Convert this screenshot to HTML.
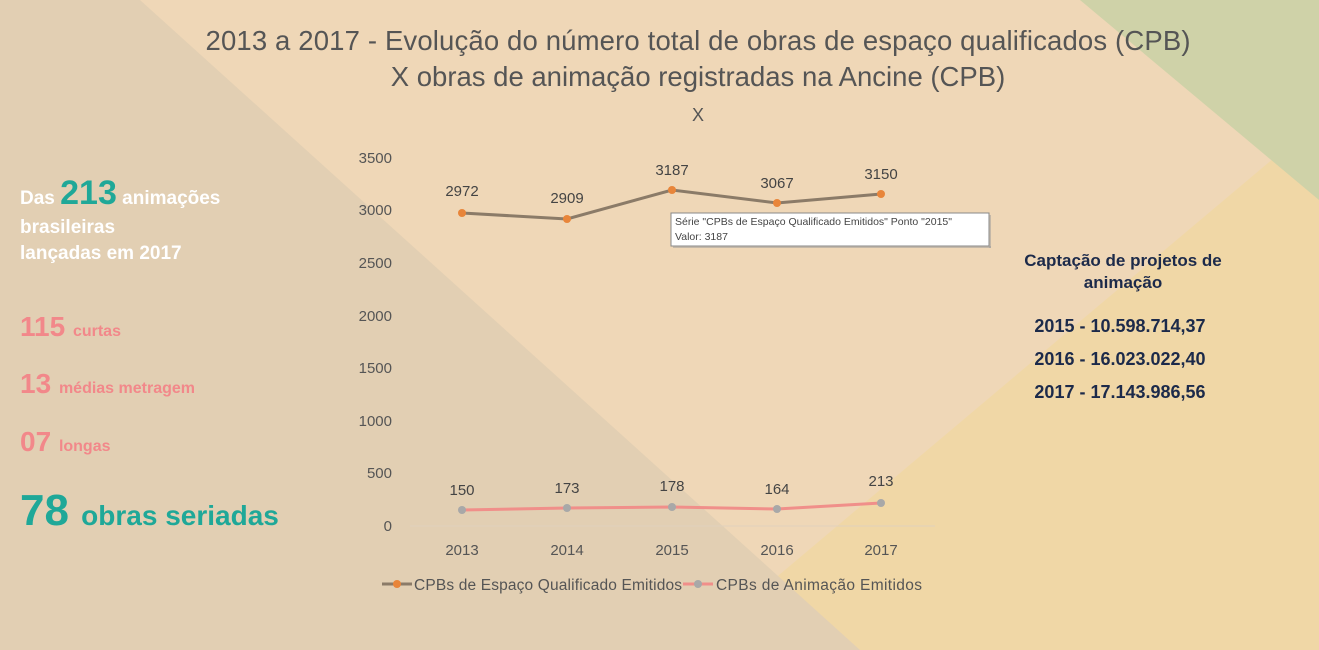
<!DOCTYPE html>
<html><head><meta charset="utf-8"><style>
html,body{margin:0;padding:0;width:1319px;height:650px;overflow:hidden;font-family:"Liberation Sans",sans-serif}
</style></head><body>
<svg width="1319" height="650" xmlns="http://www.w3.org/2000/svg" font-family="Liberation Sans, sans-serif">
<rect width="1319" height="650" fill="#efd7b7"/>
<polygon points="690,650 1319,120 1319,650" fill="#f0d7a6"/>
<polygon points="1080,0 1319,0 1319,200" fill="#cfd2a8"/>
<polygon points="0,0 140,0 860,650 0,650" fill="#e2cfb3"/>
<text x="698" y="50" font-size="27.5" fill="#555" text-anchor="middle" textLength="985">2013 a 2017 - Evolução do número total de obras de espaço qualificados (CPB)</text>
<text x="698" y="86" font-size="27.5" fill="#555" text-anchor="middle">X obras de animação registradas na Ancine (CPB)</text>
<text x="698" y="121" font-size="18" fill="#555" text-anchor="middle">X</text>
<g font-size="15" fill="#555" text-anchor="end">
<text x="392" y="163">3500</text><text x="392" y="215">3000</text><text x="392" y="268">2500</text>
<text x="392" y="321">2000</text><text x="392" y="373">1500</text><text x="392" y="426">1000</text>
<text x="392" y="478">500</text><text x="392" y="531">0</text>
</g>
<line x1="410" y1="526" x2="935" y2="526" stroke="#e0d0bc" stroke-width="1"/>
<g font-size="15" fill="#555" text-anchor="middle">
<text x="462" y="555">2013</text><text x="567" y="555">2014</text><text x="672" y="555">2015</text><text x="777" y="555">2016</text><text x="881" y="555">2017</text>
</g>
<polyline points="462,213 567,219 672,190 777,203 881,194" fill="none" stroke="#8b7b68" stroke-width="3"/>
<g fill="#e8853a"><circle cx="462" cy="213" r="4"/><circle cx="567" cy="219" r="4"/><circle cx="672" cy="190" r="4"/><circle cx="777" cy="203" r="4"/><circle cx="881" cy="194" r="4"/></g>
<g font-size="15" fill="#444" text-anchor="middle">
<text x="462" y="196">2972</text><text x="567" y="203">2909</text><text x="672" y="175">3187</text><text x="777" y="188">3067</text><text x="881" y="179">3150</text>
</g>
<polyline points="462,510 567,508 672,507 777,509 881,503" fill="none" stroke="#f08f8a" stroke-width="3"/>
<g fill="#a8a8a8"><circle cx="462" cy="510" r="4"/><circle cx="567" cy="508" r="4"/><circle cx="672" cy="507" r="4"/><circle cx="777" cy="509" r="4"/><circle cx="881" cy="503" r="4"/></g>
<g font-size="15" fill="#444" text-anchor="middle">
<text x="462" y="495">150</text><text x="567" y="493">173</text><text x="672" y="491">178</text><text x="777" y="494">164</text><text x="881" y="486">213</text>
</g>
<rect x="671" y="213" width="318" height="33" fill="#fff" stroke="#888" stroke-width="1"/>
<rect x="989" y="215" width="2" height="33" fill="#999" opacity="0.5"/>
<rect x="673" y="246" width="318" height="2" fill="#999" opacity="0.5"/>
<text x="675" y="225" font-size="10.5" fill="#444">Série "CPBs de Espaço Qualificado Emitidos" Ponto "2015"</text>
<text x="675" y="240" font-size="10.5" fill="#444">Valor: 3187</text>
<line x1="382" y1="584" x2="412" y2="584" stroke="#8b7b68" stroke-width="3"/><circle cx="397" cy="584" r="4" fill="#e8853a"/>
<text x="414" y="590" font-size="15.5" fill="#555" textLength="268">CPBs de Espaço Qualificado Emitidos</text>
<line x1="683" y1="584" x2="713" y2="584" stroke="#f08f8a" stroke-width="3"/><circle cx="698" cy="584" r="4" fill="#a8a8a8"/>
<text x="716" y="590" font-size="15.5" fill="#555" textLength="206">CPBs de Animação Emitidos</text>
<g font-weight="bold">
<text x="20" y="204" font-size="19" fill="#fff">Das <tspan font-size="34" fill="#1fa898">213</tspan> animações</text>
<text x="20" y="233" font-size="19" fill="#fff">brasileiras</text>
<text x="20" y="259" font-size="19" fill="#fff">lançadas em 2017</text>
<text x="20" y="336" font-size="28" fill="#f2888a">115 <tspan font-size="16">curtas</tspan></text>
<text x="20" y="393" font-size="28" fill="#f2888a">13 <tspan font-size="16">médias metragem</tspan></text>
<text x="20" y="451" font-size="28" fill="#f2888a">07 <tspan font-size="16">longas</tspan></text>
<text x="20" y="525" font-size="44" fill="#1fa898">78 <tspan font-size="28">obras seriadas</tspan></text>
<g fill="#1c2a4a" font-size="17" text-anchor="middle">
<text x="1123" y="266">Captação de projetos de</text>
<text x="1123" y="288">animação</text>
<text x="1120" y="332" font-size="18">2015 - 10.598.714,37</text>
<text x="1120" y="365" font-size="18">2016 - 16.023.022,40</text>
<text x="1120" y="398" font-size="18">2017 - 17.143.986,56</text>
</g>
</g>
</svg>
</body></html>
